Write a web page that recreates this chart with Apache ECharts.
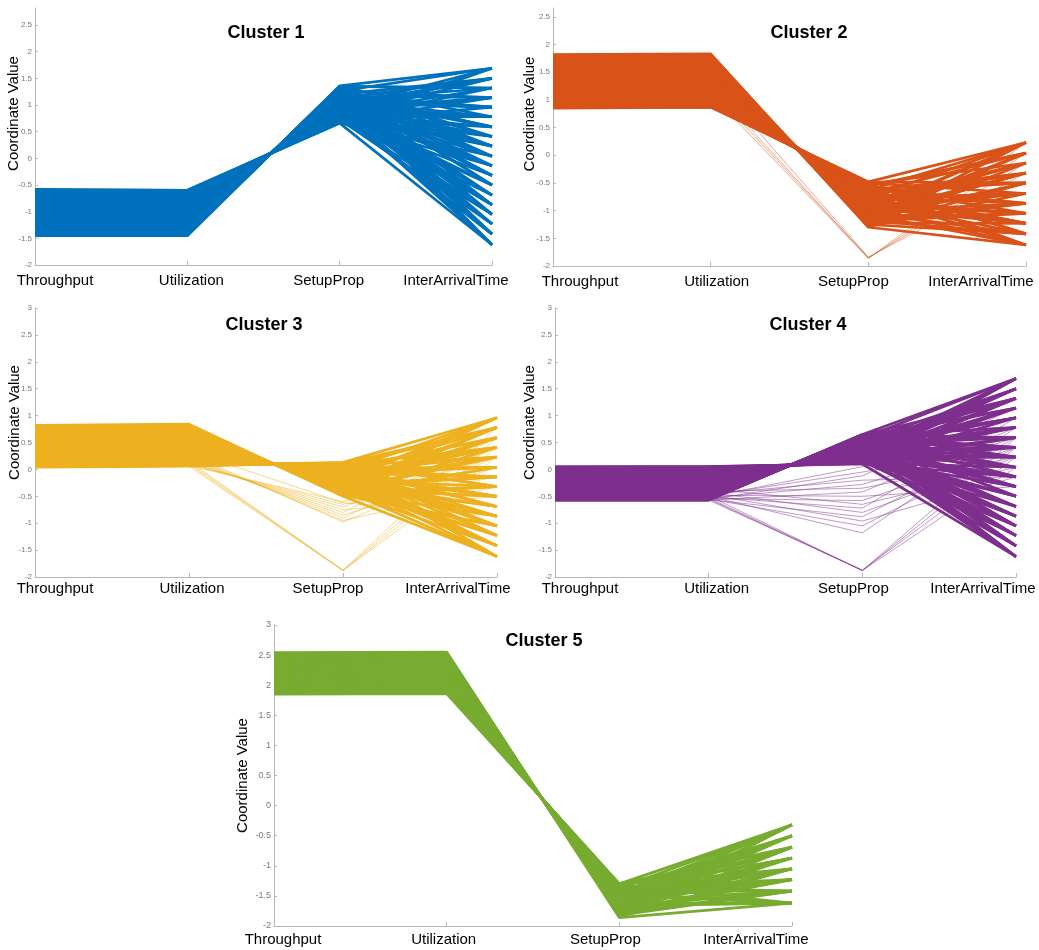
<!DOCTYPE html>
<html>
<head>
<meta charset="utf-8">
<script src="https://cdn.jsdelivr.net/npm/echarts@6/dist/echarts.min.js"></script>
<style>html,body{margin:0;padding:0;background:#fff}#c{width:1039px;height:950px}</style>
</head>
<body>
<div id="c"></div>
<script>
// ---------- categories & ticks ----------
const AXES = ['Throughput', 'Utilization', 'SetupProp', 'InterArrivalTime'];
const ticksTop = [-2, -1.5, -1, -0.5, 0, 0.5, 1, 1.5, 2, 2.5];
const ticksFull = [-2, -1.5, -1, -0.5, 0, 0.5, 1, 1.5, 2, 2.5, 3];

// ---------- Cluster 1 ----------
const c1Throughput = [-0.58,-0.60,-0.61,-0.63,-0.64,-0.66,-0.67,-0.69,-0.71,-0.72,-0.74,-0.75,-0.77,-0.78,-0.80,-0.81,-0.83,-0.85,-0.86,-0.88,-0.89,-0.91,-0.92,-0.94,-0.95,-0.97,-0.99,-1.00,-1.02,-1.03,-1.05,-1.06,-1.08,-1.09,-1.11,-1.13,-1.14,-1.16,-1.17,-1.19,-1.20,-1.22,-1.23,-1.25,-1.27,-1.28,-1.30,-1.31,-1.33,-1.34,-1.39,-1.40,-1.41,-1.42,-1.43,-1.44,-1.45,
  -0.59,-0.62,-0.65,-0.68,-0.70,-0.73,-0.76,-0.79,-0.82,-0.84,-0.87,-0.90,-0.93,-0.96,-0.98,-1.01,-1.04,-1.07,-1.10,
  -1.12,-1.14,-1.16,-1.18,-1.20,-1.22,-1.24,-1.26,-1.28,-1.30,-1.32,-1.34,-1.21,-1.38,-1.40,-1.42,-1.44,-1.13,-1.27];
const c1Utilization = [-0.60,-0.61,-0.62,-0.63,-0.65,-0.66,-0.68,-0.69,-0.71,-0.72,-0.74,-0.76,-0.77,-0.79,-0.80,-0.82,-0.83,-0.85,-0.86,-0.88,-0.90,-0.91,-0.93,-0.94,-0.96,-0.97,-0.99,-1.00,-1.02,-1.03,-1.05,-1.07,-1.08,-1.10,-1.11,-1.13,-1.14,-1.16,-1.18,-1.19,-1.21,-1.22,-1.24,-1.25,-1.27,-1.28,-1.30,-1.32,-1.33,-1.35,-1.39,-1.40,-1.41,-1.42,-1.43,-1.44,-1.45,
  -0.60,-0.62,-0.65,-0.68,-0.70,-0.73,-0.76,-0.79,-0.82,-0.84,-0.87,-0.90,-0.93,-0.96,-0.98,-1.01,-1.04,-1.07,-1.10,
  -1.12,-1.14,-1.16,-1.18,-1.20,-1.22,-1.24,-1.26,-1.28,-1.30,-1.32,-1.34,-1.21,-1.38,-1.40,-1.42,-1.44,-1.13,-1.27];
const c1SetupProp = [0.66,0.68,0.68,0.70,0.71,0.72,0.73,0.75,0.76,0.77,0.79,0.80,0.81,0.82,0.84,0.85,0.86,0.88,0.89,0.90,0.91,0.93,0.93,0.95,0.96,0.97,0.99,1.00,1.01,1.02,1.04,1.05,1.06,1.07,1.09,1.10,1.11,1.13,1.14,1.15,1.16,1.18,1.19,1.20,1.22,1.23,1.24,1.25,1.26,1.28,1.32,1.32,1.33,1.34,1.35,1.35,1.36,
  0.67,0.69,0.72,0.74,0.76,0.78,0.80,0.83,0.85,0.87,0.89,0.92,0.94,0.97,0.98,1.01,1.03,1.05,1.08,
  1.09,1.11,1.13,1.14,1.16,1.18,1.19,1.21,1.22,1.24,1.26,1.27,1.17,1.30,1.32,1.34,1.35,1.10,1.21];
const c1InterArrival = [-1.62,1.69,0.04,0.96,-0.69,1.32,-1.23,0.41,-0.32,0.78,-0.87,1.50,-0.14,-1.42,0.59,1.14,-0.50,0.23,-1.05,
  0.41,-0.50,1.14,-1.23,1.69,-0.14,0.78,-0.87,-1.62,1.50,0.23,-0.69,0.96,-0.32,-1.42,1.32,0.04,-1.05,0.59,
  -0.87,0.96,-0.32,-1.42,0.23,1.50,-0.69,0.59,-1.23,-0.14,1.14,-1.62,-0.50,0.41,-1.05,0.78,0.04,1.32,1.69,
  -0.14,1.14,-1.05,0.59,1.69,-0.50,0.23,-1.42,1.32,-0.87,0.78,-1.62,0.04,1.50,-0.69,0.41,-1.23,0.96,-0.32,
  0.78,-0.69,1.50,-1.23,0.04,0.96,-1.62,-0.32,0.41,-1.05,1.69,-0.50,1.14,-1.42,0.23,-0.87,1.32,-0.14,0.59];

// ---------- Cluster 2 ----------
const c2Throughput = [0.85,0.87,0.89,0.91,0.94,0.96,0.98,1.00,1.03,1.05,1.07,1.09,1.12,1.14,1.16,1.18,1.21,1.23,1.25,1.27,1.30,1.32,1.34,1.36,1.38,1.42,1.44,1.47,1.49,1.52,1.54,1.57,1.59,1.61,1.63,1.65,1.67,1.69,1.72,1.74,1.76,1.78,1.80,1.82,
  0.86,0.90,0.95,0.99,1.04,1.08,1.13,1.17,1.22,1.26,1.31,
  1.35,1.40,1.45,1.50,1.56,1.60,1.64,1.68,1.73,1.77,1.81];
const c2Utilization = [0.87,0.88,0.90,0.92,0.94,0.96,0.99,1.01,1.03,1.05,1.08,1.10,1.12,1.14,1.17,1.19,1.21,1.23,1.26,1.28,1.30,1.32,1.35,1.37,1.39,1.42,1.45,1.47,1.49,1.52,1.55,1.57,1.59,1.61,1.64,1.66,1.68,1.70,1.72,1.74,1.76,1.78,1.81,1.83,
  0.87,0.91,0.96,1.00,1.05,1.09,1.14,1.18,1.23,1.27,1.32,
  1.36,1.41,1.46,1.51,1.57,1.61,1.65,1.69,1.74,1.78,1.82];
const c2SetupProp = [-0.48,-0.50,-0.53,-0.52,-0.57,-0.55,-0.60,-0.58,-0.64,-0.62,-0.68,-0.66,-0.72,-0.69,-0.75,-0.73,-0.80,-0.77,-0.83,-0.80,-0.87,-0.84,-0.90,-0.87,-0.94,-0.93,-0.99,-0.96,-1.03,-1.01,-1.07,-1.05,-1.11,-1.08,-1.15,-1.12,-1.18,-1.15,-1.22,-1.19,-1.26,-1.22,-1.29,-1.30,
  -0.48,-0.52,-0.56,-0.59,-0.63,-0.67,-0.71,-0.74,-0.78,-0.82,-0.86,
  -0.89,-0.94,-0.98,-1.02,-1.07,-1.10,-1.14,-1.17,-1.21,-1.25,-1.28];
const c2InterArrival = [0.23,-0.69,-1.42,-0.14,-1.05,0.04,-0.50,-1.62,-0.32,-0.87,-1.23,
  -0.50,-1.23,0.04,-0.87,-1.62,-0.32,0.23,-1.05,-0.69,-0.14,-1.42,
  -1.05,-0.14,-1.62,-0.69,0.23,-1.23,-0.32,-0.87,0.04,-1.42,-0.50,
  0.04,-0.87,-0.32,-1.42,-0.50,0.23,-1.05,-0.14,-1.23,-0.69,-1.62,
  -0.50,-1.42,0.04,-0.87,0.23,-1.23,-0.32,-1.62,-0.69,-0.14,-1.05,
  -1.23,-0.14,-0.69,0.23,-1.62,-0.32,-1.05,0.04,-0.87,-1.42,-0.50];
const c2SparseThroughput = [1.10,1.18,1.26,1.40];
const c2SparseUtilization = [1.11,1.19,1.27,1.41];
const c2SparseSetupProp = [-1.86,-1.85,-1.86,-1.84];
const c2SparseInterArrival = [0.04,-0.14,0.23,-0.32];

// ---------- Cluster 3 ----------
const c3Throughput = [0.04,0.06,0.08,0.09,0.11,0.13,0.15,0.16,0.18,0.20,0.22,0.23,0.25,0.27,0.29,0.30,0.32,0.34,0.36,0.38,0.39,0.41,0.43,0.45,0.46,0.48,0.50,0.52,0.53,0.55,0.57,0.59,0.60,0.62,0.64,0.66,0.68,0.69,0.71,0.73,0.75,0.76,0.78,0.80,0.82,
  0.05,0.07,0.10,0.12,0.14,0.17,0.19,0.21,0.24,0.26,0.28,0.31,0.33,0.35,0.37,
  0.44,0.47,0.49,0.51,0.54,0.56,0.58,0.61,0.63,0.65,0.67,0.70,0.72,0.74,0.79];
const c3Utilization = [0.06,0.08,0.10,0.11,0.13,0.15,0.17,0.18,0.20,0.22,0.24,0.25,0.27,0.29,0.31,0.32,0.34,0.36,0.38,0.40,0.41,0.43,0.45,0.47,0.48,0.50,0.52,0.54,0.55,0.57,0.59,0.61,0.62,0.64,0.66,0.68,0.70,0.71,0.73,0.75,0.77,0.78,0.80,0.82,0.84,
  0.07,0.09,0.12,0.14,0.16,0.19,0.21,0.23,0.26,0.28,0.30,0.33,0.35,0.37,0.39,
  0.46,0.49,0.51,0.53,0.56,0.58,0.60,0.63,0.65,0.67,0.69,0.72,0.74,0.76,0.81];
const c3SetupProp = [0.13,0.11,0.10,0.09,0.07,0.06,0.04,0.03,0.02,0.00,-0.02,-0.02,-0.04,-0.06,-0.07,-0.08,-0.10,-0.11,-0.13,-0.15,-0.15,-0.17,-0.19,-0.20,-0.21,-0.23,-0.24,-0.26,-0.27,-0.28,-0.30,-0.32,-0.32,-0.34,-0.36,-0.37,-0.39,-0.40,-0.41,-0.43,-0.45,-0.45,-0.47,-0.49,-0.50,
  0.12,0.11,0.08,0.07,0.05,0.02,0.01,-0.01,-0.03,-0.05,-0.06,-0.09,-0.10,-0.12,-0.14,
  -0.19,-0.22,-0.23,-0.25,-0.27,-0.29,-0.31,-0.33,-0.35,-0.36,-0.38,-0.40,-0.42,-0.44,-0.48];
const c3InterArrival = [0.96,-0.32,-1.23,0.41,-0.69,0.78,-1.62,0.04,-0.87,0.59,-0.50,-1.42,0.23,-1.05,-0.14,
  0.04,-1.05,0.78,-0.50,-1.42,0.41,-0.87,0.96,-0.32,-1.62,0.23,-0.69,0.59,-1.23,-0.14,
  -0.69,0.59,-0.14,-1.23,0.96,-0.50,0.23,-1.42,0.78,-0.87,0.04,-1.05,0.41,-0.32,-1.62,
  -0.32,0.78,-1.05,0.23,-1.62,0.59,-0.69,-0.14,0.96,-1.23,0.04,-0.50,0.41,-1.42,-0.87,
  0.41,-0.87,0.96,-1.42,-0.14,-0.69,0.78,-1.23,0.23,-0.50,-1.62,0.59,-0.32,0.04,-1.05];
const c3SparseThroughput = [0.06,0.08,0.10,0.12,0.14,0.17,0.20,0.24,0.28,0.33,0.05,0.08,0.11,0.14];
const c3SparseUtilization = [0.07,0.09,0.11,0.13,0.15,0.18,0.21,0.25,0.29,0.34,0.06,0.09,0.12,0.15];
const c3SparseSetupProp = [-0.60,-0.65,-0.70,-0.75,-0.80,-0.85,-0.90,-0.95,-0.98,-0.62,-1.88,-1.88,-1.87,-1.88];
const c3SparseInterArrival = [0.23,-0.14,0.41,-0.50,0.59,0.04,0.41,-0.32,0.23,-0.87,0.59,0.41,0.78,0.23];

// ---------- Cluster 4 ----------
const c4Throughput = [0.05,0.04,0.03,0.02,0.01,0.00,-0.02,-0.03,-0.04,-0.05,-0.06,-0.07,-0.08,-0.09,-0.10,-0.12,-0.13,-0.14,-0.15,-0.16,-0.17,-0.18,-0.19,-0.20,-0.22,-0.23,-0.24,-0.25,-0.26,-0.27,-0.28,-0.29,-0.30,-0.32,-0.33,-0.34,-0.35,-0.36,-0.37,-0.38,-0.39,-0.40,-0.42,-0.43,-0.44,-0.45,-0.46,-0.47,-0.48,-0.49,-0.50,-0.52,-0.53,-0.54,-0.55,-0.56,-0.57,
  0.04,0.02,0.00,-0.01,-0.03,-0.05,-0.07,-0.09,-0.11,-0.12,-0.14,-0.16,-0.18,-0.19,-0.21,-0.23,-0.25,-0.26,-0.28,
  -0.30,-0.31,-0.33,-0.35,-0.37,-0.39,-0.41,-0.43,-0.45,-0.47,-0.49,-0.51,-0.53,-0.55,-0.57,-0.36,-0.44,-0.50,-0.56];
const c4Utilization = [0.05,0.05,0.04,0.03,0.02,0.01,-0.01,-0.02,-0.03,-0.04,-0.05,-0.06,-0.07,-0.08,-0.10,-0.11,-0.12,-0.13,-0.14,-0.15,-0.16,-0.17,-0.19,-0.20,-0.21,-0.22,-0.23,-0.24,-0.26,-0.27,-0.28,-0.29,-0.30,-0.31,-0.32,-0.33,-0.35,-0.36,-0.37,-0.38,-0.39,-0.40,-0.41,-0.42,-0.44,-0.45,-0.46,-0.47,-0.48,-0.49,-0.50,-0.51,-0.52,-0.54,-0.55,-0.56,-0.57,
  0.04,0.02,0.00,-0.01,-0.03,-0.05,-0.07,-0.09,-0.11,-0.12,-0.14,-0.16,-0.18,-0.19,-0.21,-0.23,-0.25,-0.26,-0.28,
  -0.30,-0.31,-0.33,-0.35,-0.37,-0.39,-0.41,-0.43,-0.45,-0.47,-0.49,-0.51,-0.53,-0.55,-0.57,-0.36,-0.44,-0.50,-0.56];
const c4SetupProp = [0.10,0.11,0.12,0.13,0.14,0.14,0.16,0.17,0.18,0.19,0.20,0.21,0.22,0.22,0.23,0.25,0.26,0.27,0.28,0.29,0.30,0.30,0.31,0.32,0.34,0.35,0.36,0.37,0.38,0.38,0.39,0.40,0.41,0.43,0.44,0.45,0.46,0.46,0.47,0.48,0.49,0.50,0.52,0.53,0.54,0.54,0.55,0.56,0.57,0.58,0.59,0.61,0.62,0.62,0.63,0.64,0.65,
  0.11,0.13,0.14,0.15,0.17,0.19,0.21,0.22,0.24,0.25,0.27,0.29,0.30,0.31,0.33,0.35,0.37,0.38,0.39,
  0.41,0.42,0.44,0.46,0.47,0.49,0.51,0.53,0.54,0.56,0.58,0.60,0.62,0.63,0.65,0.46,0.53,0.59,0.64];
const c4InterArrival = [-1.62,1.69,0.04,0.96,-0.69,1.32,-1.23,0.41,-0.32,0.78,-0.87,1.50,-0.14,-1.42,0.59,1.14,-0.50,0.23,-1.05,
  0.41,-0.50,1.14,-1.23,1.69,-0.14,0.78,-0.87,-1.62,1.50,0.23,-0.69,0.96,-0.32,-1.42,1.32,0.04,-1.05,0.59,
  -0.87,0.96,-0.32,-1.42,0.23,1.50,-0.69,0.59,-1.23,-0.14,1.14,-1.62,-0.50,0.41,-1.05,0.78,0.04,1.32,1.69,
  -0.14,1.14,-1.05,0.59,1.69,-0.50,0.23,-1.42,1.32,-0.87,0.78,-1.62,0.04,1.50,-0.69,0.41,-1.23,0.96,-0.32,
  0.78,-0.69,1.50,-1.23,0.04,0.96,-1.62,-0.32,0.41,-1.05,1.69,-0.50,1.14,-1.42,0.23,-0.87,1.32,-0.14,0.59];
const c4SparseThroughput = [-0.50,-0.48,-0.55,-0.45,-0.52,-0.40,-0.56,-0.47,-0.53,-0.35,-0.50,-0.42,-0.55,-0.46,-0.54,-0.49,-0.52,-0.56,-0.48,-0.54];
const c4SparseUtilization = [-0.51,-0.49,-0.56,-0.46,-0.53,-0.41,-0.57,-0.48,-0.54,-0.36,-0.51,-0.43,-0.56,-0.47,-0.55,-0.50,-0.53,-0.57,-0.49,-0.55];
const c4SparseSetupProp = [0.05,-0.05,-0.12,-0.20,-0.28,-0.35,-0.42,-0.50,-0.58,-0.65,-0.72,-0.80,-0.88,-0.96,-1.05,-1.18,-1.88,-1.87,-1.88,-1.88];
const c4SparseInterArrival = [0.96,0.41,1.14,-0.14,0.59,0.23,0.78,-0.32,0.41,0.04,0.96,0.23,0.59,-0.14,0.41,0.78,0.41,0.23,0.59,0.04];

// ---------- Cluster 5 ----------
const c5Throughput = [1.85,1.87,1.89,1.90,1.92,1.94,1.96,1.97,1.99,2.01,2.03,2.04,2.06,2.08,2.10,2.11,2.13,2.15,2.17,2.18,2.20,2.22,2.24,2.25,2.27,2.29,2.31,2.32,2.34,2.36,2.38,2.39,2.41,2.43,2.45,2.46,2.48,2.50,2.52,2.54,
  1.86,1.91,1.95,2.00,2.05,2.09,2.14,2.19,
  2.23,2.26,2.30,2.35,2.40,2.44,2.49,2.53];
const c5Utilization = [1.86,1.88,1.90,1.91,1.93,1.95,1.97,1.98,2.00,2.02,2.04,2.05,2.07,2.09,2.11,2.12,2.14,2.16,2.18,2.19,2.21,2.23,2.25,2.26,2.28,2.30,2.32,2.33,2.35,2.37,2.39,2.40,2.42,2.44,2.46,2.47,2.49,2.51,2.53,2.55,
  1.87,1.92,1.96,2.01,2.06,2.10,2.15,2.20,
  2.24,2.27,2.31,2.36,2.41,2.45,2.50,2.54];
const c5SetupProp = [-1.30,-1.31,-1.32,-1.33,-1.35,-1.37,-1.38,-1.39,-1.41,-1.42,-1.44,-1.45,-1.46,-1.48,-1.50,-1.51,-1.52,-1.54,-1.55,-1.56,-1.58,-1.60,-1.61,-1.62,-1.64,-1.65,-1.67,-1.68,-1.69,-1.71,-1.73,-1.73,-1.75,-1.77,-1.78,-1.79,-1.81,-1.82,-1.84,-1.86,
  -1.30,-1.34,-1.37,-1.41,-1.46,-1.49,-1.53,-1.57,
  -1.60,-1.63,-1.66,-1.70,-1.74,-1.78,-1.82,-1.85];
const c5InterArrival = [-0.32,-1.05,-1.62,-0.69,-1.23,-0.50,-1.42,-0.87,
  -0.87,-1.42,-0.50,-1.23,-0.32,-1.62,-0.69,-1.05,
  -1.23,-0.50,-1.05,-0.32,-1.42,-0.87,-1.62,-0.69,
  -0.69,-1.62,-0.87,-1.42,-0.50,-1.05,-0.32,-1.23,
  -0.50,-1.23,-0.32,-0.87,-0.69,-1.42,-1.05,-1.62,
  -0.69,-1.42,-0.32,-1.05,-1.62,-0.50,-1.23,-0.87,
  -1.23,-0.50,-1.62,-0.87,-0.32,-1.42,-0.69,-1.05];

// ---------- layout / style ----------
const FONT = '"Liberation Sans", Arial, Helvetica, sans-serif';
const AXIS_COLOR = '#b8b8b8';
const TICK_TEXT = '#7a7a7a';

const panels = [
  { title: 'Cluster 1', tx: 266, ty: 24, color: '#0072BD',
    grid: { left: 35, top: 8, width: 457, height: 257 }, ymax: 2.82, ticks: ticksTop,
    nameGap: 14, nameShift: 46, labelMargin: 8, tickFont: 8,
    pads: [[0,0,0,40],[0,0,0,8],[0,22,0,0],[0,72,0,0]],
    main: [c1Throughput, c1Utilization, c1SetupProp, c1InterArrival], sparse: null },
  { title: 'Cluster 2', tx: 809, ty: 24, color: '#D95319',
    grid: { left: 553, top: 8, width: 473, height: 258 }, ymax: 2.66, ticks: ticksTop,
    nameGap: 16, nameShift: 46, labelMargin: 8, tickFont: 8,
    pads: [[0,0,0,54],[0,0,0,12],[0,30,0,0],[0,90,0,0]],
    main: [c2Throughput, c2Utilization, c2SetupProp, c2InterArrival],
    sparse: [c2SparseThroughput, c2SparseUtilization, c2SparseSetupProp, c2SparseInterArrival] },
  { title: 'Cluster 3', tx: 264, ty: 316, color: '#EDB120',
    grid: { left: 35, top: 308, width: 462, height: 269 }, ymax: 3, ticks: ticksFull,
    nameGap: 13, nameShift: 40, labelMargin: 4, tickFont: 8,
    pads: [[0,0,0,40],[0,0,0,6],[0,30,0,0],[0,78,0,0]],
    main: [c3Throughput, c3Utilization, c3SetupProp, c3InterArrival],
    sparse: [c3SparseThroughput, c3SparseUtilization, c3SparseSetupProp, c3SparseInterArrival] },
  { title: 'Cluster 4', tx: 808, ty: 316, color: '#7E2F8E',
    grid: { left: 555, top: 308, width: 461, height: 269 }, ymax: 3, ticks: ticksFull,
    nameGap: 18, nameShift: 40, labelMargin: 4, tickFont: 8,
    pads: [[0,0,0,50],[0,0,0,16],[0,18,0,0],[0,66,0,0]],
    main: [c4Throughput, c4Utilization, c4SetupProp, c4InterArrival],
    sparse: [c4SparseThroughput, c4SparseUtilization, c4SparseSetupProp, c4SparseInterArrival] },
  { title: 'Cluster 5', tx: 544, ty: 632, color: '#77AC30',
    grid: { left: 274, top: 625, width: 518, height: 301 }, ymax: 3, ticks: ticksFull,
    nameGap: 24, nameShift: 0, labelMargin: 6, tickFont: 9,
    pads: [[0,0,0,18],[0,6,0,0],[0,28,0,0],[0,72,0,0]],
    main: [c5Throughput, c5Utilization, c5SetupProp, c5InterArrival], sparse: null }
];

const option = {
  animation: false,
  backgroundColor: '#ffffff',
  title: [], grid: [], xAxis: [], yAxis: [], series: []
};

panels.forEach((p, gi) => {
  option.title.push({
    text: p.title, left: p.tx, top: p.ty, textAlign: 'center', padding: 0,
    textStyle: { fontFamily: FONT, fontSize: 18, fontWeight: 'bold', color: '#000' }
  });
  option.grid.push(Object.assign({}, p.grid));
  const rich = {};
  p.pads.forEach((pad, k) => {
    rich['t' + k] = { padding: pad, fontFamily: FONT, fontSize: 15, color: '#000' };
  });
  option.xAxis.push({
    type: 'category', gridIndex: gi, data: AXES, boundaryGap: false,
    axisLine: { onZero: false, lineStyle: { color: AXIS_COLOR, width: 1 } },
    axisTick: { inside: true, length: 4, interval: 0, lineStyle: { color: AXIS_COLOR } },
    axisLabel: {
      interval: 0, margin: p.labelMargin, fontFamily: FONT, fontSize: 15, color: '#000',
      formatter: (v, idx) => '{t' + idx + '|' + v + '}', rich: rich
    },
    splitLine: { show: false }
  });
  option.yAxis.push({
    type: 'value', gridIndex: gi, min: -2, max: p.ymax,
    name: 'Coordinate Value', nameLocation: 'middle', nameGap: p.nameGap, nameMoveOverlap: false,
    nameTextStyle: { fontFamily: FONT, fontSize: 15, color: '#000', padding: [0, 0, 0, p.nameShift] },
    axisLine: { show: true, onZero: false, lineStyle: { color: AXIS_COLOR, width: 1 } },
    axisTick: { show: true, inside: true, length: 3, customValues: p.ticks, lineStyle: { color: AXIS_COLOR } },
    axisLabel: { customValues: p.ticks, margin: 3, fontFamily: FONT, fontSize: p.tickFont, color: TICK_TEXT },
    splitLine: { show: false }
  });
  const addLines = (arrs, width, opacity, z) => {
    const [T, U, S, I] = arrs;
    for (let i = 0; i < T.length; i++) {
      option.series.push({
        type: 'line', xAxisIndex: gi, yAxisIndex: gi,
        data: [T[i], U[i], S[i], I[i]],
        symbol: 'none', silent: true, z: z,
        lineStyle: { color: p.color, width: width, opacity: opacity },
        emphasis: { disabled: true }
      });
    }
  };
  if (p.sparse) addLines(p.sparse, 0.9, 0.55, 2);
  addLines(p.main, 2.7, 1, 3);
});

const chart = echarts.init(document.getElementById('c'), null, { renderer: 'canvas' });
chart.setOption(option);
</script>
</body>
</html>
